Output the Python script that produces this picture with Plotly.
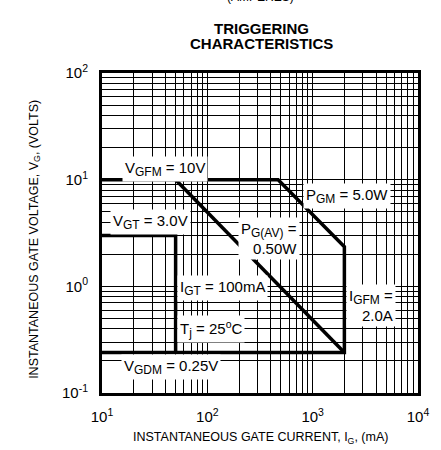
import plotly.graph_objects as go

# ---------------- data ----------------
x_major = [10, 100, 1000, 10000]
x_major_labels = ["10<sup>1</sup>", "10<sup>2</sup>", "10<sup>3</sup>", "10<sup>4</sup>"]
y_major = [0.1, 1, 10, 100]
y_major_labels = ["10<sup>-1</sup>", "10<sup>0</sup>", "10<sup>1</sup>", "10<sup>2</sup>"]

# outer limit boundary: V_GFM -> P_GM -> I_GFM -> V_GDM
limit_current_mA = [10, 470, 2000, 2000, 10]
limit_voltage_V = [10, 10, 2.35, 0.24, 0.24]
# average gate power line P_G(AV) = 0.50 W
pgav_current_mA = [50, 2000]
pgav_voltage_V = [10, 0.24]
# V_GT / I_GT trigger boundary
vgt_current_mA = [10, 50, 50]
vgt_voltage_V = [3.0, 3.0, 0.24]

# ---------------- figure ----------------
W, H = 441, 450
L, R, T, B = 102, 19, 73, 57
PW, PH = W - L - R, H - T - B
FONT = "Liberation Sans, Arial, sans-serif"


def px(xp):
    return (xp - L) / PW


def py(yp):
    return (H - B - yp) / PH


def minor_vals(majors):
    vals = []
    for m in majors[:-1]:
        for k in range(2, 10):
            vals.append(m * k)
    return vals


def sub(s, size=12):
    return '<sub><span style="font-size:%dpx">%s</span></sub>' % (size, s)


fig = go.Figure()
line_style = dict(color="black", width=3.5)
fig.add_trace(go.Scatter(x=limit_current_mA, y=limit_voltage_V, mode="lines",
                         line=line_style, hoverinfo="skip"))
fig.add_trace(go.Scatter(x=pgav_current_mA, y=pgav_voltage_V, mode="lines",
                         line=line_style, hoverinfo="skip"))
fig.add_trace(go.Scatter(x=vgt_current_mA, y=vgt_voltage_V, mode="lines",
                         line=line_style, hoverinfo="skip"))

axis_common = dict(
    showgrid=True, gridcolor="black", gridwidth=1,
    showline=True, linecolor="black", linewidth=3, mirror=True,
    zeroline=False, ticks="", tickfont=dict(family=FONT, size=15, color="black"),
    tickmode="array", ticklabelstandoff=8,
)
fig.update_xaxes(type="log", range=[1, 4], tickvals=x_major, ticktext=x_major_labels,
                 minor=dict(tickmode="array", tickvals=minor_vals(x_major), showgrid=True,
                            gridcolor="black", gridwidth=1, ticks=""),
                 **axis_common)
fig.update_yaxes(type="log", range=[-1, 2], tickvals=y_major, ticktext=y_major_labels,
                 minor=dict(tickmode="array", tickvals=minor_vals(y_major), showgrid=True,
                            gridcolor="black", gridwidth=1, ticks=""),
                 **axis_common)

ann = []


def label(text, xp, yp, xanchor="center", align="center", size=15):
    ann.append(dict(text=text, x=px(xp), y=py(yp), xref="paper", yref="paper",
                    xanchor=xanchor, yanchor="middle", align=align, showarrow=False,
                    bgcolor="white", borderpad=2,
                    font=dict(family=FONT, size=size, color="black")))


label("V" + sub("GFM") + " = 10V", 166, 169)
label("V" + sub("GT") + " = 3.0V", 151, 222)
label("P" + sub("G(AV)") + " =<br>0.50W", 302, 238, xanchor="right", align="right")
label("P" + sub("GM") + " = 5.0W", 350, 196)
label("I" + sub("GT") + " = 100mA", 224, 288)
label("T" + sub("j") + " = 25<sup>o</sup>C", 212, 329)
label("V" + sub("GDM") + " = 0.25V", 172, 367)
label("I" + sub("GFM") + " =<br>2.0A", 400, 305, xanchor="right", align="right")

# titles
for txt, yp in [("<b>TRIGGERING</b>", 28.5), ("<b>CHARACTERISTICS</b>", 43.8)]:
    ann.append(dict(text=txt, x=px(263.5), y=py(yp), xref="paper", yref="paper",
                    xanchor="center", yanchor="middle", showarrow=False,
                    font=dict(family=FONT, size=15, color="black")))
# cut-off line at very top
ann.append(dict(text="(AMPERES)", x=px(262), y=py(-3), xref="paper", yref="paper",
                xanchor="center", yanchor="middle", showarrow=False,
                font=dict(family=FONT, size=12, color="black")))
# axis titles
ann.append(dict(text="INSTANTANEOUS GATE CURRENT, I<sub>G</sub>, (mA)",
                x=px(262), y=py(438), xref="paper", yref="paper",
                xanchor="center", yanchor="middle", showarrow=False,
                font=dict(family=FONT, size=12.5, color="black")))
ann.append(dict(text="INSTANTANEOUS GATE VOLTAGE, V<sub>G</sub>, (VOLTS)",
                x=px(34), y=py(239), xref="paper", yref="paper", textangle=-90,
                xanchor="center", yanchor="middle", showarrow=False,
                font=dict(family=FONT, size=12.5, color="black")))

fig.update_layout(
    width=W, height=H, margin=dict(l=L, r=R, t=T, b=B),
    paper_bgcolor="white", plot_bgcolor="white", showlegend=False,
    annotations=ann,
)

fig.write_html("out.html", config={"displayModeBar": False},
               post_script="document.body.style.margin='0';document.body.style.overflow='hidden';")
